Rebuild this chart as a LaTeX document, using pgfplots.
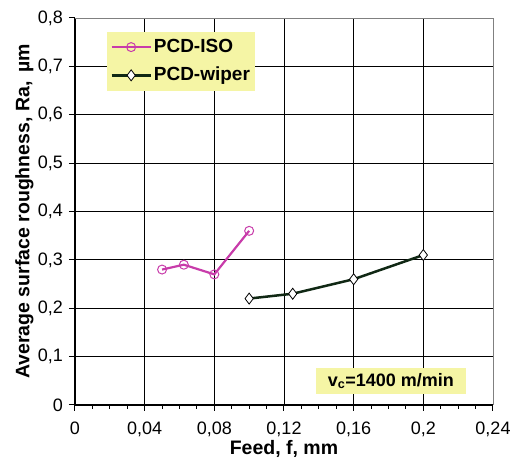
\documentclass[border=0pt]{standalone}
\usepackage{fontspec}
\setmainfont{Liberation Sans}
\usepackage{pgfplots}
\pgfplotsset{compat=1.18}
\definecolor{isomag}{RGB}{200,60,170}
\definecolor{wipergreen}{RGB}{16,40,20}
\definecolor{boxyellow}{RGB}{245,245,165}

\begin{document}
\fontsize{18}{21}\selectfont
\begin{tikzpicture}
\begin{axis}[
    scale only axis,
    width=418pt, height=387pt,
    xmin=0, xmax=0.24,
    ymin=0, ymax=0.8,
    xtick={0,0.04,0.08,0.12,0.16,0.2,0.24},
    xticklabels={0,{0,04},{0,08},{0,12},{0,16},{0,2},{0,24}},
    ytick={0,0.1,0.2,0.3,0.4,0.5,0.6,0.7,0.8},
    yticklabels={0,{0,1},{0,2},{0,3},{0,4},{0,5},{0,6},{0,7},{0,8}},
    minor x tick num=3,
    axis x line=bottom, axis y line=left,
    axis line style={line width=1.6pt, -},
    tick align=outside,
    major tick length=6pt, minor tick length=4pt,
    tick style={black, line width=1pt},
    grid=major,
    major grid style={black, line width=0.8pt},
    ticklabel style={font=\fontsize{18}{21}\selectfont},
    xticklabel style={yshift=-5pt},
    xlabel={\bfseries Feed, f, mm},
    ylabel={\bfseries Average surface roughness, Ra, \,µm},
    label style={font=\fontsize{19.5}{22}\selectfont},
    xlabel style={yshift=9pt},
    ylabel style={yshift=-8pt},
    clip=false,
    legend style={at={(0.077,0.964)}, anchor=north west, fill=boxyellow, draw=none,
        font=\bfseries\fontsize{19}{21}\selectfont, inner xsep=3pt, inner ysep=5pt,
        row sep=8pt},
    legend cell align=left,
    legend image code/.code={
        \draw[#1] (0pt,0pt) -- (39pt,0pt);
        \draw[#1, only marks] plot coordinates {(19.5pt,0pt)};
    },
]
\draw[gray, line width=0.8pt] (rel axis cs:0,1) -- (rel axis cs:1,1) -- (rel axis cs:1,0);
\addplot[isomag, line width=2.2pt, mark=o, mark size=4.5pt,
    mark options={fill=white, line width=1pt}]
    coordinates {(0.05,0.28) (0.0625,0.29) (0.08,0.27) (0.1,0.36)};
\addlegendentry{PCD-ISO}
\addplot[wipergreen, line width=2.5pt, mark=diamond*, mark size=5.5pt,
    mark options={fill=white, draw=black, line width=0.8pt}]
    coordinates {(0.1,0.22) (0.125,0.23) (0.16,0.26) (0.2,0.31)};
\addlegendentry{PCD-wiper}
\node[fill=boxyellow, inner xsep=12pt, inner ysep=5pt, font=\bfseries\fontsize{18}{21}\selectfont]
    at (axis cs:0.1814,0.0496) {v\textsubscript{c}=1400 m/min};
\end{axis}
\pgfresetboundingbox
\path[use as bounding box] (current axis.south west) ++(-75pt,-60pt) rectangle ++(512pt,465pt);
\end{tikzpicture}
\end{document}
